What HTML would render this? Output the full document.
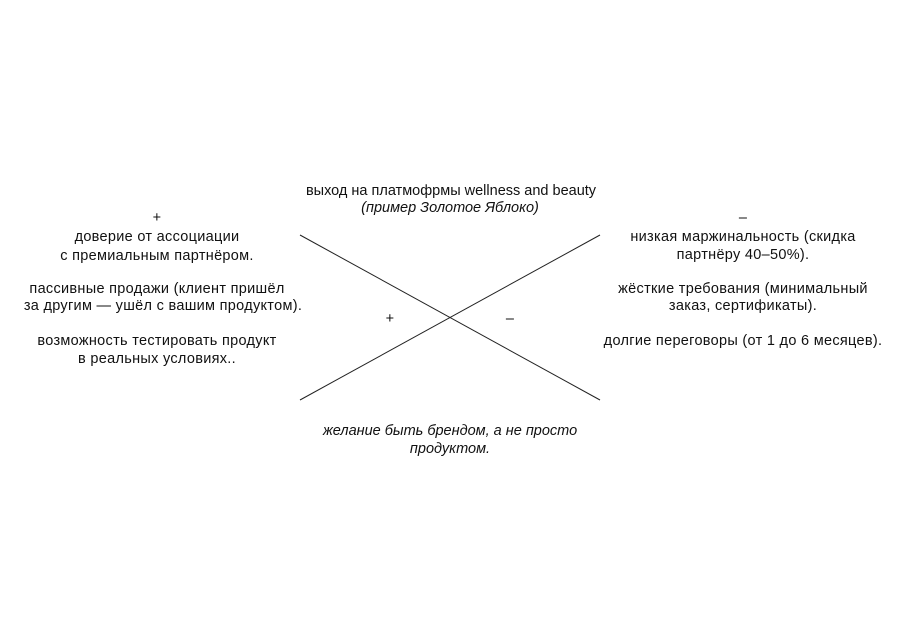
<!DOCTYPE html>
<html><head><meta charset="utf-8"><style>
body{margin:0;background:#fff;}
#c{position:relative;width:900px;height:635px;font-family:"Liberation Sans",sans-serif;font-size:14.5px;letter-spacing:0.3px;color:#111;}
.t{position:absolute;white-space:nowrap;transform:translate(-50%,-50%);line-height:1;margin-top:2px;}
.i{font-style:italic;letter-spacing:0px;}
</style></head><body><div id="c">
<svg width="900" height="635" style="position:absolute;left:0;top:0">
<line x1="300" y1="235" x2="600" y2="400" stroke="#222" stroke-width="1"/>
<line x1="300" y1="400" x2="600" y2="235" stroke="#222" stroke-width="1"/>
</svg>
<div class="t" style="left:451px;top:189px;letter-spacing:0">выход на платмофрмы wellness and beauty</div>
<div class="t i" style="left:450px;top:206px">(пример Золотое Яблоко)</div>
<div class="t i" style="left:450px;top:429px">желание быть брендом, а не просто</div>
<div class="t i" style="left:450px;top:447px">продуктом.</div>
<div class="t" style="left:390px;top:317px">+</div>
<div class="t" style="left:510px;top:317px">–</div>

<div class="t" style="left:157px;top:216px">+</div>
<div class="t" style="left:157px;top:235px">доверие от ассоциации</div>
<div class="t" style="left:157px;top:254px">с премиальным партнёром.</div>
<div class="t" style="left:157px;top:287px">пассивные продажи (клиент пришёл</div>
<div class="t" style="left:163px;top:304px">за другим — ушёл с вашим продуктом).</div>
<div class="t" style="left:157px;top:339px">возможность тестировать продукт</div>
<div class="t" style="left:157px;top:357px">в реальных условиях..</div>

<div class="t" style="left:743px;top:216px">–</div>
<div class="t" style="left:743px;top:235px">низкая маржинальность (скидка</div>
<div class="t" style="left:743px;top:253px">партнёру 40–50%).</div>
<div class="t" style="left:743px;top:287px">жёсткие требования (минимальный</div>
<div class="t" style="left:743px;top:304px">заказ, сертификаты).</div>
<div class="t" style="left:743px;top:339px">долгие переговоры (от 1 до 6 месяцев).</div>
</div></body></html>
